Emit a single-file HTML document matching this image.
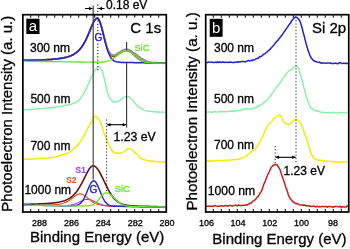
<!DOCTYPE html>
<html><head><meta charset="utf-8"><style>
html,body{margin:0;padding:0;background:#fff;width:350px;height:249px;overflow:hidden}
svg{display:block;will-change:transform}
svg{color:#000}
text{font-family:"Liberation Sans",sans-serif;fill:currentColor;stroke:currentColor;stroke-width:0.3px}
</style></head><body>
<svg width="350" height="249" viewBox="0 0 350 249">
<rect width="350" height="249" fill="#fff"/>
<g>
<path d="M23.5 60.3L24.5 60.3L25.5 60.3L26.5 60.3L27.5 60.3L28.5 60.3L29.5 60.2L30.5 60.2L31.5 60.2L32.5 60.2L33.5 60.2L34.5 60.1L35.5 60.1L36.5 60.1L37.5 60.1L38.5 60.0L39.5 60.0L40.5 60.0L41.5 59.9L42.5 59.9L43.5 59.8L44.5 59.8L45.5 59.8L46.5 59.7L47.5 59.6L48.5 59.6L49.5 59.5L50.5 59.5L51.5 59.4L52.5 59.3L53.5 59.2L54.5 59.1L55.5 59.0L56.5 58.9L57.5 58.8L58.5 58.7L59.5 58.5L60.5 58.4L61.5 58.2L62.5 58.0L63.5 57.9L64.5 57.6L65.5 57.4L66.5 57.2L67.5 56.9L68.5 56.6L69.5 56.3L70.5 55.9L71.5 55.5L72.5 55.0L73.5 54.5L74.5 53.9L75.5 53.2L76.5 52.5L77.5 51.6L78.5 50.7L79.5 49.7L80.5 48.5L81.5 47.2L82.5 45.8L83.5 44.2L84.5 42.5L85.5 40.6L86.5 38.5L87.5 36.3L88.5 34.0L89.5 31.6L90.5 29.1L91.5 26.7L92.5 24.3L93.5 22.2L94.5 20.5L95.5 19.1L96.5 18.4L97.5 18.2L98.5 19.0L99.5 20.9L100.5 23.6L101.5 26.9L102.5 30.8L103.5 34.8L104.5 38.8L105.5 42.5L106.5 46.0L107.5 48.9L108.5 51.4L109.5 53.3L110.5 54.7L111.5 55.6L112.5 56.2L113.5 56.3L114.5 56.2L115.5 55.9L116.5 55.4L117.5 54.8L118.5 54.1L119.5 53.4L120.5 52.8L121.5 52.1L122.5 51.6L123.5 51.1L124.5 50.8L125.5 50.6L126.5 50.5L127.5 50.6L128.4 50.9L129.4 51.4L130.4 52.0L131.4 52.8L132.4 53.6L133.4 54.5L134.4 55.4L135.4 56.4L136.4 57.3L137.4 58.1L138.4 58.9L139.4 59.6L140.4 60.2L141.4 60.8L142.4 61.2L143.4 61.6L144.4 61.9L145.4 62.2L146.4 62.4L147.4 62.5L148.4 62.6L149.4 62.7L150.4 62.8L151.4 62.9L152.4 62.9L153.4 62.9L154.4 63.0L155.4 63.0L156.4 63.0L157.4 63.0L158.4 63.1L159.4 63.1L160.4 63.1L161.4 63.1L162.4 63.1L163.4 63.1L164.4 63.1L165.4 63.2" fill="none" stroke="#d02020" stroke-width="1.6" stroke-linejoin="round" />
<path d="M23.5 60.7L24.5 59.8L25.5 60.4L26.5 60.2L27.5 60.2L28.5 60.2L29.5 59.8L30.5 60.2L31.5 60.0L32.5 60.9L33.5 60.2L34.5 60.1L35.5 60.1L36.5 60.0L37.5 59.9L38.5 60.0L39.5 60.1L40.5 59.9L41.5 60.1L42.5 59.9L43.5 59.9L44.5 60.1L45.5 59.9L46.5 59.6L47.5 59.6L48.5 59.7L49.5 59.9L50.5 59.4L51.5 59.3L52.5 59.5L53.5 59.0L54.5 59.1L55.5 59.2L56.5 59.0L57.5 58.8L58.5 58.8L59.5 58.0L60.5 58.6L61.5 58.0L62.5 57.7L63.5 57.9L64.5 57.8L65.5 57.3L66.5 57.0L67.5 56.9L68.5 56.6L69.5 56.5L70.5 56.0L71.5 55.5L72.5 55.2L73.5 54.4L74.5 53.7L75.5 53.3L76.5 52.6L77.5 51.6L78.5 50.5L79.5 49.7L80.5 48.0L81.5 47.3L82.5 45.9L83.5 43.9L84.5 42.5L85.5 40.4L86.5 38.7L87.5 35.9L88.5 33.8L89.5 31.7L90.5 29.3L91.5 26.2L92.5 24.2L93.5 22.3L94.5 20.3L95.5 19.4L96.5 18.0L97.5 18.2L98.5 18.7L99.5 21.0L100.5 23.4L101.5 26.6L102.5 30.1L103.5 34.8L104.5 38.5L105.5 42.2L106.5 45.7L107.5 48.4L108.5 50.6L109.5 52.4L110.5 53.7L111.5 55.0L112.5 54.9L113.5 55.2L114.5 55.1L115.5 54.9L116.5 54.4L117.5 53.4L118.5 52.6L119.5 52.3L120.5 51.8L121.5 51.1L122.5 50.5L123.5 49.9L124.5 49.7L125.5 49.4L126.5 49.6L127.5 49.3L128.4 49.7L129.4 50.0L130.4 50.6L131.4 51.1L132.4 52.2L133.4 52.7L134.4 53.5L135.4 53.5L136.4 54.7L137.4 55.5L138.4 56.5L139.4 56.7L140.4 58.1L141.4 58.7L142.4 58.9L143.4 59.5L144.4 60.1L145.4 60.7L146.4 61.2L147.4 61.8L148.4 61.7L149.4 62.1L150.4 62.2L151.4 62.7L152.4 62.6L153.4 62.9L154.4 62.5L155.4 62.7L156.4 62.7L157.4 63.2L158.4 63.1L159.4 62.9L160.4 62.9L161.4 63.1L162.4 62.9L163.4 62.9L164.4 63.2L165.4 63.6" fill="none" stroke="#909090" stroke-width="1.9" stroke-linejoin="round" />
<path d="M23.5 60.3L24.5 60.3L25.5 60.3L26.5 60.3L27.5 60.3L28.5 60.3L29.5 60.2L30.5 60.2L31.5 60.2L32.5 60.2L33.5 60.2L34.5 60.1L35.5 60.1L36.5 60.1L37.5 60.1L38.5 60.0L39.5 60.0L40.5 60.0L41.5 59.9L42.5 59.9L43.5 59.8L44.5 59.8L45.5 59.8L46.5 59.7L47.5 59.6L48.5 59.6L49.5 59.5L50.5 59.5L51.5 59.4L52.5 59.3L53.5 59.2L54.5 59.1L55.5 59.0L56.5 58.9L57.5 58.8L58.5 58.7L59.5 58.5L60.5 58.4L61.5 58.2L62.5 58.0L63.5 57.9L64.5 57.6L65.5 57.4L66.5 57.2L67.5 56.9L68.5 56.6L69.5 56.3L70.5 55.9L71.5 55.5L72.5 55.0L73.5 54.5L74.5 53.9L75.5 53.2L76.5 52.5L77.5 51.6L78.5 50.7L79.5 49.7L80.5 48.5L81.5 47.2L82.5 45.8L83.5 44.2L84.5 42.5L85.5 40.6L86.5 38.5L87.5 36.3L88.5 34.0L89.5 31.6L90.5 29.1L91.5 26.7L92.5 24.4L93.5 22.2L94.5 20.5L95.5 19.2L96.5 18.4L97.5 18.3L98.5 19.1L99.5 21.0L100.5 23.7L101.5 27.2L102.5 31.1L103.5 35.2L104.5 39.3L105.5 43.3L106.5 46.9L107.5 50.2L108.5 52.9L109.5 55.2L110.5 57.1L111.5 58.5L112.5 59.6L113.5 60.5L114.5 61.1L115.5 61.5L116.5 61.8L117.5 62.0L118.5 62.1L119.5 62.2L120.5 62.3L121.5 62.4L122.5 62.4L123.5 62.4L124.5 62.5L125.5 62.5L126.5 62.5L127.5 62.5L128.4 62.5L129.4 62.6L130.4 62.6L131.4 62.6L132.4 62.6L133.4 62.6L134.4 62.7L135.4 62.7L136.4 62.7L137.4 62.7L138.4 62.7L139.4 62.8L140.4 62.8L141.4 62.8L142.4 62.8L143.4 62.8L144.4 62.8L145.4 62.9L146.4 62.9L147.4 62.9L148.4 62.9L149.4 62.9L150.4 62.9L151.4 62.9L152.4 63.0L153.4 63.0L154.4 63.0L155.4 63.0L156.4 63.0L157.4 63.0L158.4 63.1L159.4 63.1L160.4 63.1L161.4 63.1L162.4 63.1L163.4 63.1L164.4 63.1L165.4 63.2" fill="none" stroke="#2222c0" stroke-width="1.5" stroke-linejoin="round" />
<path d="M23.5 61.2L24.5 61.2L25.5 61.2L26.5 61.3L27.5 61.3L28.5 61.3L29.5 61.3L30.5 61.3L31.5 61.3L32.5 61.3L33.5 61.3L34.5 61.4L35.5 61.4L36.5 61.4L37.5 61.4L38.5 61.4L39.5 61.4L40.5 61.4L41.5 61.5L42.5 61.5L43.5 61.5L44.5 61.5L45.5 61.5L46.5 61.5L47.5 61.5L48.5 61.6L49.5 61.6L50.5 61.6L51.5 61.6L52.5 61.6L53.5 61.6L54.5 61.6L55.5 61.7L56.5 61.7L57.5 61.7L58.5 61.7L59.5 61.7L60.5 61.7L61.5 61.7L62.5 61.8L63.5 61.8L64.5 61.8L65.5 61.8L66.5 61.8L67.5 61.8L68.5 61.8L69.5 61.8L70.5 61.9L71.5 61.9L72.5 61.9L73.5 61.9L74.5 61.9L75.5 61.9L76.5 61.9L77.5 62.0L78.5 62.0L79.5 62.0L80.5 62.0L81.5 62.0L82.5 62.0L83.5 62.0L84.5 62.1L85.5 62.1L86.5 62.1L87.5 62.1L88.5 62.1L89.5 62.1L90.5 62.1L91.5 62.1L92.5 62.2L93.5 62.2L94.5 62.2L95.5 62.2L96.5 62.2L97.5 62.2L98.5 62.2L99.5 62.1L100.5 62.1L101.5 62.1L102.5 62.0L103.5 61.9L104.5 61.8L105.5 61.6L106.5 61.4L107.5 61.2L108.5 60.8L109.5 60.5L110.5 60.0L111.5 59.5L112.5 59.0L113.5 58.3L114.5 57.7L115.5 56.9L116.5 56.1L117.5 55.3L118.5 54.5L119.5 53.8L120.5 53.0L121.5 52.4L122.5 51.8L123.5 51.3L124.5 50.9L125.5 50.7L126.5 50.6L127.5 50.7L128.4 51.0L129.4 51.5L130.4 52.1L131.4 52.9L132.4 53.7L133.4 54.6L134.4 55.5L135.4 56.5L136.4 57.4L137.4 58.2L138.4 59.0L139.4 59.7L140.4 60.3L141.4 60.8L142.4 61.3L143.4 61.7L144.4 62.0L145.4 62.2L146.4 62.4L147.4 62.6L148.4 62.7L149.4 62.8L150.4 62.9L151.4 62.9L152.4 62.9L153.4 63.0L154.4 63.0L155.4 63.0L156.4 63.1L157.4 63.1L158.4 63.1L159.4 63.1L160.4 63.1L161.4 63.1L162.4 63.1L163.4 63.2L164.4 63.2L165.4 63.2" fill="none" stroke="#5fe81e" stroke-width="1.3" stroke-linejoin="round" />
<path d="M23.5 109.9L24.5 109.8L25.5 109.6L26.5 109.5L27.5 109.8L28.5 109.8L29.5 109.6L30.5 109.6L31.5 109.5L32.5 109.4L33.5 109.0L34.5 109.1L35.5 109.2L36.5 108.9L37.5 108.9L38.5 108.8L39.5 108.8L40.5 108.9L41.5 108.6L42.5 108.5L43.5 108.6L44.5 108.5L45.5 108.6L46.5 107.7L47.5 108.2L48.5 107.8L49.5 107.8L50.5 107.8L51.5 107.7L52.5 107.5L53.5 107.2L54.5 107.4L55.5 106.9L56.5 106.8L57.5 106.8L58.5 106.4L59.5 106.8L60.5 106.5L61.5 106.5L62.5 105.9L63.5 105.7L64.5 105.6L65.5 105.6L66.5 105.1L67.5 105.2L68.5 104.9L69.5 105.0L70.5 104.3L71.5 104.4L72.5 103.7L73.5 103.3L74.5 103.0L75.5 102.4L76.5 102.1L77.5 101.6L78.5 100.6L79.5 99.6L80.5 98.4L81.5 96.7L82.5 95.3L83.5 93.8L84.5 91.9L85.5 90.3L86.5 87.6L87.5 85.9L88.5 83.5L89.5 81.4L90.5 78.9L91.5 76.6L92.5 74.8L93.5 72.8L94.5 71.1L95.5 69.5L96.5 68.2L97.5 67.5L98.5 66.9L99.5 67.2L100.5 67.8L101.5 69.8L102.5 71.5L103.5 75.1L104.5 79.9L105.5 84.2L106.5 88.7L107.5 92.5L108.5 95.6L109.5 98.0L110.5 99.3L111.5 100.3L112.5 101.5L113.5 102.0L114.5 102.0L115.5 101.6L116.5 101.9L117.5 101.7L118.5 101.1L119.5 100.7L120.5 100.0L121.5 98.9L122.5 98.6L123.5 97.6L124.5 96.9L125.5 96.6L126.5 96.4L127.5 96.8L128.4 96.5L129.4 97.1L130.4 98.0L131.4 98.8L132.4 100.2L133.4 100.8L134.4 102.4L135.4 103.7L136.4 105.1L137.4 105.7L138.4 107.1L139.4 107.5L140.4 108.2L141.4 108.6L142.4 109.1L143.4 109.9L144.4 110.3L145.4 110.6L146.4 110.9L147.4 110.9L148.4 111.0L149.4 111.3L150.4 111.4L151.4 111.3L152.4 111.6L153.4 111.8L154.4 111.7L155.4 111.7L156.4 112.0L157.4 112.3L158.4 111.9L159.4 112.0L160.4 112.1L161.4 112.4L162.4 111.8L163.4 112.3L164.4 112.5L165.4 112.1" fill="none" stroke="#88eeaa" stroke-width="1.4" stroke-linejoin="round" />
<path d="M23.5 159.7L24.5 159.4L25.5 159.1L26.5 159.3L27.5 158.8L28.5 159.0L29.5 159.6L30.5 158.9L31.5 159.5L32.5 159.0L33.5 159.2L34.5 158.9L35.5 158.3L36.5 158.7L37.5 158.8L38.5 158.4L39.5 158.3L40.5 158.7L41.5 158.3L42.5 158.0L43.5 158.2L44.5 158.5L45.5 158.1L46.5 158.4L47.5 158.4L48.5 158.0L49.5 157.6L50.5 157.4L51.5 157.6L52.5 157.7L53.5 157.4L54.5 157.3L55.5 156.9L56.5 156.9L57.5 156.4L58.5 156.2L59.5 155.6L60.5 155.2L61.5 155.1L62.5 154.6L63.5 154.3L64.5 154.3L65.5 153.8L66.5 154.2L67.5 153.3L68.5 152.5L69.5 152.3L70.5 151.7L71.5 150.8L72.5 150.5L73.5 149.2L74.5 147.6L75.5 147.6L76.5 146.2L77.5 145.6L78.5 143.8L79.5 142.3L80.5 141.6L81.5 139.4L82.5 138.1L83.5 136.7L84.5 134.6L85.5 132.5L86.5 130.6L87.5 128.9L88.5 126.6L89.5 125.1L90.5 123.3L91.5 122.1L92.5 119.5L93.5 117.6L94.5 116.8L95.5 116.1L96.5 116.7L97.5 117.6L98.5 119.2L99.5 120.2L100.5 122.5L101.5 124.7L102.5 128.4L103.5 132.0L104.5 134.1L105.5 136.8L106.5 139.3L107.5 142.1L108.5 144.0L109.5 145.8L110.5 148.3L111.5 150.0L112.5 151.5L113.5 152.0L114.5 152.9L115.5 152.9L116.5 153.0L117.5 153.0L118.5 153.2L119.5 153.5L120.5 153.0L121.5 153.0L122.5 152.4L123.5 152.0L124.5 151.3L125.5 150.5L126.5 149.3L127.5 149.1L128.4 148.7L129.4 148.5L130.4 148.9L131.4 149.3L132.4 150.2L133.4 151.0L134.4 152.4L135.4 153.0L136.4 153.8L137.4 154.7L138.4 156.1L139.4 157.4L140.4 158.0L141.4 158.2L142.4 159.2L143.4 159.6L144.4 159.8L145.4 160.1L146.4 160.4L147.4 160.5L148.4 160.8L149.4 160.5L150.4 161.2L151.4 161.0L152.4 161.6L153.4 160.7L154.4 161.5L155.4 161.7L156.4 161.4L157.4 161.7L158.4 161.9L159.4 161.9L160.4 161.7L161.4 161.8L162.4 162.2L163.4 162.3L164.4 162.0L165.4 162.0" fill="none" stroke="#f2ea0a" stroke-width="1.5" stroke-linejoin="round" />
<path d="M23.5 204.3L24.5 204.3L25.5 204.3L26.5 204.2L27.5 204.2L28.5 204.2L29.5 204.2L30.5 204.2L31.5 204.1L32.5 204.1L33.5 204.1L34.5 204.1L35.5 204.0L36.5 204.0L37.5 204.0L38.5 203.9L39.5 203.9L40.5 203.8L41.5 203.8L42.5 203.8L43.5 203.7L44.5 203.6L45.5 203.6L46.5 203.5L47.5 203.5L48.5 203.4L49.5 203.3L50.5 203.2L51.5 203.1L52.5 203.0L53.5 202.9L54.5 202.8L55.5 202.7L56.5 202.5L57.5 202.4L58.5 202.2L59.5 202.0L60.5 201.8L61.5 201.5L62.5 201.3L63.5 201.0L64.5 200.7L65.5 200.3L66.5 199.9L67.5 199.4L68.5 198.9L69.5 198.3L70.5 197.6L71.5 196.8L72.5 196.0L73.5 195.1L74.5 194.0L75.5 192.9L76.5 191.7L77.5 190.3L78.5 188.8L79.5 187.2L80.5 185.5L81.5 183.7L82.5 181.8L83.5 179.8L84.5 177.8L85.5 175.8L86.5 173.8L87.5 171.8L88.5 170.1L89.5 168.5L90.5 167.3L91.5 166.4L92.5 165.9L93.5 165.8L94.5 166.1L95.5 166.7L96.5 167.7L97.5 168.9L98.5 170.3L99.5 172.0L100.5 173.8L101.5 175.8L102.5 177.8L103.5 179.9L104.5 182.0L105.5 184.1L106.5 186.2L107.5 188.2L108.5 190.1L109.5 191.9L110.5 193.5L111.5 195.1L112.5 196.5L113.5 197.8L114.5 198.9L115.5 199.9L116.5 200.8L117.5 201.6L118.5 202.3L119.5 202.9L120.5 203.4L121.5 203.9L122.5 204.2L123.5 204.6L124.5 204.8L125.5 205.0L126.5 205.2L127.5 205.4L128.4 205.5L129.4 205.6L130.4 205.7L131.4 205.8L132.4 205.9L133.4 205.9L134.4 206.0L135.4 206.0L136.4 206.1L137.4 206.1L138.4 206.2L139.4 206.2L140.4 206.2L141.4 206.3L142.4 206.3L143.4 206.3L144.4 206.3L145.4 206.4L146.4 206.4L147.4 206.4L148.4 206.4L149.4 206.5L150.4 206.5L151.4 206.5L152.4 206.5L153.4 206.6L154.4 206.6L155.4 206.6L156.4 206.6L157.4 206.6L158.4 206.7L159.4 206.7L160.4 206.7L161.4 206.7L162.4 206.7L163.4 206.8L164.4 206.8L165.4 206.8" fill="none" stroke="#6a1212" stroke-width="1.6" stroke-linejoin="round" />
<path d="M23.5 205.2L24.5 205.2L25.5 205.2L26.5 205.2L27.5 205.3L28.5 205.3L29.5 205.3L30.5 205.3L31.5 205.3L32.5 205.3L33.5 205.3L34.5 205.3L35.5 205.4L36.5 205.4L37.5 205.4L38.5 205.4L39.5 205.4L40.5 205.4L41.5 205.4L42.5 205.4L43.5 205.5L44.5 205.5L45.5 205.5L46.5 205.5L47.5 205.5L48.5 205.5L49.5 205.5L50.5 205.5L51.5 205.6L52.5 205.6L53.5 205.6L54.5 205.6L55.5 205.6L56.5 205.6L57.5 205.6L58.5 205.6L59.5 205.6L60.5 205.6L61.5 205.6L62.5 205.6L63.5 205.6L64.5 205.6L65.5 205.6L66.5 205.5L67.5 205.5L68.5 205.4L69.5 205.3L70.5 205.1L71.5 204.9L72.5 204.7L73.5 204.4L74.5 204.1L75.5 203.7L76.5 203.3L77.5 202.9L78.5 202.4L79.5 201.9L80.5 201.4L81.5 201.0L82.5 200.5L83.5 200.1L84.5 199.8L85.5 199.5L86.5 199.4L87.5 199.3L88.5 199.4L89.5 199.5L90.5 199.7L91.5 200.0L92.5 200.4L93.5 200.9L94.5 201.4L95.5 201.9L96.5 202.4L97.5 202.9L98.5 203.4L99.5 203.8L100.5 204.2L101.5 204.6L102.5 204.9L103.5 205.2L104.5 205.4L105.5 205.6L106.5 205.8L107.5 205.9L108.5 206.0L109.5 206.1L110.5 206.2L111.5 206.2L112.5 206.3L113.5 206.3L114.5 206.3L115.5 206.3L116.5 206.4L117.5 206.4L118.5 206.4L119.5 206.4L120.5 206.4L121.5 206.4L122.5 206.4L123.5 206.5L124.5 206.5L125.5 206.5L126.5 206.5L127.5 206.5L128.4 206.5L129.4 206.5L130.4 206.5L131.4 206.6L132.4 206.6L133.4 206.6L134.4 206.6L135.4 206.6L136.4 206.6L137.4 206.6L138.4 206.6L139.4 206.7L140.4 206.7L141.4 206.7L142.4 206.7L143.4 206.7L144.4 206.7L145.4 206.7L146.4 206.7L147.4 206.8L148.4 206.8L149.4 206.8L150.4 206.8L151.4 206.8L152.4 206.8L153.4 206.8L154.4 206.8L155.4 206.9L156.4 206.9L157.4 206.9L158.4 206.9L159.4 206.9L160.4 206.9L161.4 206.9L162.4 206.9L163.4 207.0L164.4 207.0L165.4 207.0" fill="none" stroke="#a040e0" stroke-width="1.1" stroke-linejoin="round" />
<path d="M23.5 205.0L24.5 205.0L25.5 205.0L26.5 205.0L27.5 205.0L28.5 205.1L29.5 205.1L30.5 205.1L31.5 205.1L32.5 205.1L33.5 205.1L34.5 205.1L35.5 205.1L36.5 205.1L37.5 205.1L38.5 205.1L39.5 205.1L40.5 205.1L41.5 205.1L42.5 205.0L43.5 205.0L44.5 205.0L45.5 205.0L46.5 205.0L47.5 205.0L48.5 205.0L49.5 204.9L50.5 204.9L51.5 204.9L52.5 204.8L53.5 204.8L54.5 204.7L55.5 204.7L56.5 204.6L57.5 204.5L58.5 204.3L59.5 204.2L60.5 204.0L61.5 203.8L62.5 203.5L63.5 203.2L64.5 202.8L65.5 202.4L66.5 201.9L67.5 201.4L68.5 200.8L69.5 200.2L70.5 199.5L71.5 198.7L72.5 198.0L73.5 197.2L74.5 196.4L75.5 195.7L76.5 195.0L77.5 194.5L78.5 194.1L79.5 193.9L80.5 193.9L81.5 194.1L82.5 194.5L83.5 195.0L84.5 195.6L85.5 196.4L86.5 197.2L87.5 198.0L88.5 198.8L89.5 199.6L90.5 200.4L91.5 201.1L92.5 201.8L93.5 202.4L94.5 203.0L95.5 203.4L96.5 203.9L97.5 204.2L98.5 204.5L99.5 204.8L100.5 205.0L101.5 205.2L102.5 205.3L103.5 205.5L104.5 205.6L105.5 205.7L106.5 205.7L107.5 205.8L108.5 205.8L109.5 205.9L110.5 205.9L111.5 206.0L112.5 206.0L113.5 206.0L114.5 206.1L115.5 206.1L116.5 206.1L117.5 206.1L118.5 206.2L119.5 206.2L120.5 206.2L121.5 206.2L122.5 206.3L123.5 206.3L124.5 206.3L125.5 206.3L126.5 206.3L127.5 206.4L128.4 206.4L129.4 206.4L130.4 206.4L131.4 206.4L132.4 206.4L133.4 206.5L134.4 206.5L135.4 206.5L136.4 206.5L137.4 206.5L138.4 206.5L139.4 206.6L140.4 206.6L141.4 206.6L142.4 206.6L143.4 206.6L144.4 206.6L145.4 206.7L146.4 206.7L147.4 206.7L148.4 206.7L149.4 206.7L150.4 206.7L151.4 206.7L152.4 206.8L153.4 206.8L154.4 206.8L155.4 206.8L156.4 206.8L157.4 206.8L158.4 206.8L159.4 206.9L160.4 206.9L161.4 206.9L162.4 206.9L163.4 206.9L164.4 206.9L165.4 206.9" fill="none" stroke="#e05020" stroke-width="1.2" stroke-linejoin="round" />
<path d="M23.5 205.2L24.5 205.2L25.5 205.2L26.5 205.2L27.5 205.3L28.5 205.3L29.5 205.3L30.5 205.3L31.5 205.3L32.5 205.3L33.5 205.3L34.5 205.3L35.5 205.4L36.5 205.4L37.5 205.4L38.5 205.4L39.5 205.4L40.5 205.4L41.5 205.4L42.5 205.4L43.5 205.5L44.5 205.5L45.5 205.5L46.5 205.5L47.5 205.5L48.5 205.5L49.5 205.5L50.5 205.5L51.5 205.6L52.5 205.6L53.5 205.6L54.5 205.6L55.5 205.6L56.5 205.6L57.5 205.6L58.5 205.6L59.5 205.7L60.5 205.7L61.5 205.7L62.5 205.7L63.5 205.7L64.5 205.7L65.5 205.7L66.5 205.7L67.5 205.8L68.5 205.8L69.5 205.8L70.5 205.8L71.5 205.8L72.5 205.7L73.5 205.7L74.5 205.6L75.5 205.5L76.5 205.3L77.5 205.0L78.5 204.6L79.5 204.0L80.5 203.3L81.5 202.2L82.5 200.9L83.5 199.3L84.5 197.5L85.5 195.3L86.5 193.0L87.5 190.5L88.5 188.1L89.5 185.8L90.5 183.8L91.5 182.2L92.5 181.2L93.5 180.8L94.5 181.0L95.5 181.9L96.5 183.4L97.5 185.3L98.5 187.5L99.5 189.9L100.5 192.4L101.5 194.8L102.5 197.1L103.5 199.0L104.5 200.8L105.5 202.2L106.5 203.3L107.5 204.2L108.5 204.8L109.5 205.3L110.5 205.7L111.5 205.9L112.5 206.1L113.5 206.2L114.5 206.3L115.5 206.3L116.5 206.3L117.5 206.4L118.5 206.4L119.5 206.4L120.5 206.4L121.5 206.4L122.5 206.4L123.5 206.5L124.5 206.5L125.5 206.5L126.5 206.5L127.5 206.5L128.4 206.5L129.4 206.5L130.4 206.5L131.4 206.6L132.4 206.6L133.4 206.6L134.4 206.6L135.4 206.6L136.4 206.6L137.4 206.6L138.4 206.6L139.4 206.7L140.4 206.7L141.4 206.7L142.4 206.7L143.4 206.7L144.4 206.7L145.4 206.7L146.4 206.7L147.4 206.8L148.4 206.8L149.4 206.8L150.4 206.8L151.4 206.8L152.4 206.8L153.4 206.8L154.4 206.8L155.4 206.9L156.4 206.9L157.4 206.9L158.4 206.9L159.4 206.9L160.4 206.9L161.4 206.9L162.4 206.9L163.4 207.0L164.4 207.0L165.4 207.0" fill="none" stroke="#2222d0" stroke-width="1.4" stroke-linejoin="round" />
<path d="M23.5 205.2L24.5 205.2L25.5 205.2L26.5 205.2L27.5 205.3L28.5 205.3L29.5 205.3L30.5 205.3L31.5 205.3L32.5 205.3L33.5 205.3L34.5 205.3L35.5 205.4L36.5 205.4L37.5 205.4L38.5 205.4L39.5 205.4L40.5 205.4L41.5 205.4L42.5 205.4L43.5 205.5L44.5 205.5L45.5 205.5L46.5 205.5L47.5 205.5L48.5 205.5L49.5 205.5L50.5 205.5L51.5 205.6L52.5 205.6L53.5 205.6L54.5 205.6L55.5 205.6L56.5 205.6L57.5 205.6L58.5 205.6L59.5 205.7L60.5 205.7L61.5 205.7L62.5 205.7L63.5 205.7L64.5 205.7L65.5 205.7L66.5 205.7L67.5 205.8L68.5 205.8L69.5 205.8L70.5 205.8L71.5 205.8L72.5 205.8L73.5 205.8L74.5 205.8L75.5 205.9L76.5 205.9L77.5 205.9L78.5 205.9L79.5 205.9L80.5 205.9L81.5 205.9L82.5 205.9L83.5 205.9L84.5 205.9L85.5 205.9L86.5 205.9L87.5 205.8L88.5 205.7L89.5 205.6L90.5 205.4L91.5 205.1L92.5 204.8L93.5 204.3L94.5 203.7L95.5 202.9L96.5 202.0L97.5 200.9L98.5 199.8L99.5 198.5L100.5 197.3L101.5 196.0L102.5 194.9L103.5 194.0L104.5 193.3L105.5 192.9L106.5 192.9L107.5 193.0L108.5 193.4L109.5 193.9L110.5 194.6L111.5 195.5L112.5 196.4L113.5 197.4L114.5 198.4L115.5 199.4L116.5 200.4L117.5 201.3L118.5 202.2L119.5 202.9L120.5 203.6L121.5 204.2L122.5 204.7L123.5 205.1L124.5 205.4L125.5 205.7L126.5 205.9L127.5 206.1L128.4 206.2L129.4 206.3L130.4 206.4L131.4 206.5L132.4 206.5L133.4 206.5L134.4 206.6L135.4 206.6L136.4 206.6L137.4 206.6L138.4 206.6L139.4 206.7L140.4 206.7L141.4 206.7L142.4 206.7L143.4 206.7L144.4 206.7L145.4 206.7L146.4 206.7L147.4 206.8L148.4 206.8L149.4 206.8L150.4 206.8L151.4 206.8L152.4 206.8L153.4 206.8L154.4 206.8L155.4 206.9L156.4 206.9L157.4 206.9L158.4 206.9L159.4 206.9L160.4 206.9L161.4 206.9L162.4 206.9L163.4 207.0L164.4 207.0L165.4 207.0" fill="none" stroke="#5fe81e" stroke-width="1.3" stroke-linejoin="round" />
<path d="M206.3 62.4L207.3 62.7L208.3 62.1L209.3 62.1L210.3 62.4L211.3 62.1L212.3 62.2L213.3 62.4L214.3 62.5L215.3 62.1L216.3 62.6L217.3 61.9L218.3 62.5L219.3 62.0L220.3 62.0L221.3 62.5L222.3 62.3L223.3 62.1L224.3 62.2L225.3 62.5L226.3 62.3L227.3 62.3L228.3 62.6L229.3 62.1L230.3 62.2L231.3 62.1L232.3 62.5L233.3 62.5L234.3 62.5L235.3 62.1L236.3 62.0L237.3 62.2L238.3 61.8L239.3 62.0L240.3 61.9L241.3 61.5L242.3 61.5L243.3 61.4L244.3 61.8L245.3 61.9L246.3 61.2L247.3 61.1L248.3 60.4L249.3 60.9L250.3 60.8L251.3 60.3L252.3 60.6L253.3 59.8L254.3 59.7L255.3 59.4L256.3 58.6L257.3 58.6L258.3 58.2L259.3 57.0L260.3 56.5L261.3 56.4L262.3 55.5L263.3 54.5L264.3 54.0L265.3 53.3L266.3 52.5L267.3 51.8L268.3 50.7L269.3 50.1L270.3 48.9L271.3 47.7L272.3 46.7L273.3 45.7L274.3 44.4L275.3 42.8L276.3 42.1L277.3 40.8L278.3 39.9L279.3 38.3L280.3 37.2L281.3 35.8L282.3 34.8L283.3 33.1L284.3 31.6L285.3 30.3L286.3 28.7L287.3 27.4L288.3 25.8L289.3 24.4L290.3 23.3L291.3 21.4L292.3 20.0L293.3 18.7L294.3 18.0L295.3 16.9L296.3 17.2L297.3 17.9L298.3 18.8L299.3 19.9L300.3 22.3L301.3 25.2L302.3 28.8L303.3 32.7L304.3 36.6L305.3 40.6L306.3 44.4L307.3 47.7L308.3 51.1L309.3 53.8L310.3 56.2L311.3 58.1L312.3 59.1L313.3 60.4L314.3 61.2L315.3 61.2L316.3 61.8L317.3 62.1L318.3 62.4L319.3 62.1L320.3 63.0L321.3 62.7L322.3 63.2L323.3 63.0L324.3 63.0L325.3 63.1L326.3 63.4L327.3 62.9L328.3 63.1L329.3 63.1L330.3 62.8L331.3 63.6L332.3 63.4L333.3 63.3L334.3 63.6L335.3 63.1L336.3 63.3L337.3 63.8L338.3 63.6L339.3 62.8L340.3 62.5L341.3 63.1L342.3 63.6L343.3 63.3L344.3 63.3L345.3 63.5L346.3 63.2L347.3 63.5L348.3 63.6" fill="none" stroke="#2222c8" stroke-width="1.5" stroke-linejoin="round" />
<path d="M206.3 112.1L207.3 112.1L208.3 111.8L209.3 112.1L210.3 111.8L211.3 112.3L212.3 112.7L213.3 111.7L214.3 111.3L215.3 111.8L216.3 112.0L217.3 112.1L218.3 112.1L219.3 111.5L220.3 111.5L221.3 112.1L222.3 111.3L223.3 111.9L224.3 111.5L225.3 111.8L226.3 111.7L227.3 111.7L228.3 111.6L229.3 111.0L230.3 111.4L231.3 111.2L232.3 111.3L233.3 111.5L234.3 111.0L235.3 110.8L236.3 110.7L237.3 110.6L238.3 110.8L239.3 110.1L240.3 110.4L241.3 109.9L242.3 109.6L243.3 109.0L244.3 109.3L245.3 109.3L246.3 108.4L247.3 109.2L248.3 109.2L249.3 108.7L250.3 108.7L251.3 109.2L252.3 108.7L253.3 107.9L254.3 108.0L255.3 107.6L256.3 107.2L257.3 106.1L258.3 106.5L259.3 105.5L260.3 105.1L261.3 104.4L262.3 104.0L263.3 102.9L264.3 102.0L265.3 101.5L266.3 100.9L267.3 99.4L268.3 98.9L269.3 97.4L270.3 95.8L271.3 95.0L272.3 92.9L273.3 92.0L274.3 90.1L275.3 89.0L276.3 87.2L277.3 86.0L278.3 85.3L279.3 83.7L280.3 82.4L281.3 80.9L282.3 79.8L283.3 77.7L284.3 76.3L285.3 75.2L286.3 73.6L287.3 72.4L288.3 71.5L289.3 70.5L290.3 69.8L291.3 70.0L292.3 69.0L293.3 67.5L294.3 66.4L295.3 66.1L296.3 65.8L297.3 66.6L298.3 67.8L299.3 70.8L300.3 74.2L301.3 77.4L302.3 81.1L303.3 84.9L304.3 89.5L305.3 92.7L306.3 96.6L307.3 99.5L308.3 102.4L309.3 105.3L310.3 106.9L311.3 108.7L312.3 108.8L313.3 109.4L314.3 110.4L315.3 111.0L316.3 110.7L317.3 111.2L318.3 111.0L319.3 111.6L320.3 112.2L321.3 112.1L322.3 112.2L323.3 112.1L324.3 112.7L325.3 112.8L326.3 112.8L327.3 112.7L328.3 112.3L329.3 113.2L330.3 112.7L331.3 112.7L332.3 112.9L333.3 112.1L334.3 112.7L335.3 112.7L336.3 112.9L337.3 113.2L338.3 112.9L339.3 112.2L340.3 112.7L341.3 112.8L342.3 112.8L343.3 112.4L344.3 112.3L345.3 113.0L346.3 112.9L347.3 112.8L348.3 112.3" fill="none" stroke="#88eeaa" stroke-width="1.4" stroke-linejoin="round" />
<path d="M206.3 161.4L207.3 160.3L208.3 160.9L209.3 161.5L210.3 160.9L211.3 161.0L212.3 160.6L213.3 161.2L214.3 160.6L215.3 160.9L216.3 160.9L217.3 160.5L218.3 161.0L219.3 160.3L220.3 160.5L221.3 160.6L222.3 160.5L223.3 160.6L224.3 160.7L225.3 160.3L226.3 160.2L227.3 160.1L228.3 160.1L229.3 160.3L230.3 160.0L231.3 160.0L232.3 159.8L233.3 159.5L234.3 159.9L235.3 159.3L236.3 159.4L237.3 159.7L238.3 158.9L239.3 159.1L240.3 158.6L241.3 158.6L242.3 157.9L243.3 157.7L244.3 157.1L245.3 156.6L246.3 156.2L247.3 155.1L248.3 154.4L249.3 153.5L250.3 152.7L251.3 151.9L252.3 150.9L253.3 150.6L254.3 150.1L255.3 148.9L256.3 147.5L257.3 146.8L258.3 144.7L259.3 143.0L260.3 141.0L261.3 139.2L262.3 137.2L263.3 135.3L264.3 132.4L265.3 130.2L266.3 128.3L267.3 126.6L268.3 124.5L269.3 123.7L270.3 122.7L271.3 121.7L272.3 120.8L273.3 119.4L274.3 118.1L275.3 117.7L276.3 116.7L277.3 115.5L278.3 115.4L279.3 115.1L280.3 115.3L281.3 117.1L282.3 118.9L283.3 121.0L284.3 122.7L285.3 123.7L286.3 124.0L287.3 124.1L288.3 124.8L289.3 124.1L290.3 123.7L291.3 122.9L292.3 121.3L293.3 120.3L294.3 120.0L295.3 120.1L296.3 119.4L297.3 119.9L298.3 120.4L299.3 121.5L300.3 123.2L301.3 124.4L302.3 127.2L303.3 129.7L304.3 132.7L305.3 135.5L306.3 138.9L307.3 141.6L308.3 144.9L309.3 147.9L310.3 151.5L311.3 154.1L312.3 155.7L313.3 157.7L314.3 158.3L315.3 159.4L316.3 159.4L317.3 159.4L318.3 160.5L319.3 160.3L320.3 160.3L321.3 160.5L322.3 160.4L323.3 160.9L324.3 160.8L325.3 161.5L326.3 161.4L327.3 161.0L328.3 161.1L329.3 161.4L330.3 161.2L331.3 161.7L332.3 161.8L333.3 161.6L334.3 161.7L335.3 162.0L336.3 162.3L337.3 162.3L338.3 162.0L339.3 162.2L340.3 161.8L341.3 162.1L342.3 161.8L343.3 162.2L344.3 161.7L345.3 161.8L346.3 162.0L347.3 162.1L348.3 161.6" fill="none" stroke="#f2ea0a" stroke-width="1.5" stroke-linejoin="round" />
<path d="M206.3 206.0L207.3 206.2L208.3 206.3L209.3 205.9L210.3 206.2L211.3 206.1L212.3 206.6L213.3 206.3L214.3 205.7L215.3 205.5L216.3 206.1L217.3 206.4L218.3 206.1L219.3 206.3L220.3 205.9L221.3 205.6L222.3 206.2L223.3 206.0L224.3 206.1L225.3 205.5L226.3 205.9L227.3 205.7L228.3 206.1L229.3 205.6L230.3 205.6L231.3 205.6L232.3 206.1L233.3 205.7L234.3 205.4L235.3 205.3L236.3 205.3L237.3 206.0L238.3 205.0L239.3 205.2L240.3 205.6L241.3 205.7L242.3 205.2L243.3 205.4L244.3 205.3L245.3 205.3L246.3 204.8L247.3 205.0L248.3 204.1L249.3 204.1L250.3 202.9L251.3 203.0L252.3 201.7L253.3 200.9L254.3 200.6L255.3 199.3L256.3 198.6L257.3 196.9L258.3 196.4L259.3 194.6L260.3 192.7L261.3 191.4L262.3 189.1L263.3 185.6L264.3 183.1L265.3 181.1L266.3 178.3L267.3 175.8L268.3 173.3L269.3 171.6L270.3 169.3L271.3 167.2L272.3 166.4L273.3 165.1L274.3 165.1L275.3 164.4L276.3 164.4L277.3 165.2L278.3 167.0L279.3 168.2L280.3 170.3L281.3 173.9L282.3 176.8L283.3 179.6L284.3 182.4L285.3 185.7L286.3 188.9L287.3 190.8L288.3 195.0L289.3 196.8L290.3 198.8L291.3 199.7L292.3 201.1L293.3 201.9L294.3 202.5L295.3 203.3L296.3 203.7L297.3 203.6L298.3 204.2L299.3 204.7L300.3 205.0L301.3 204.9L302.3 205.1L303.3 205.3L304.3 205.1L305.3 205.2L306.3 206.1L307.3 205.6L308.3 205.9L309.3 205.7L310.3 206.4L311.3 206.6L312.3 206.1L313.3 206.4L314.3 206.1L315.3 206.9L316.3 206.7L317.3 206.2L318.3 206.9L319.3 206.6L320.3 206.7L321.3 206.7L322.3 206.4L323.3 206.4L324.3 206.8L325.3 206.6L326.3 206.3L327.3 207.3L328.3 206.6L329.3 206.5L330.3 206.5L331.3 206.9L332.3 207.0L333.3 206.8L334.3 207.0L335.3 206.3L336.3 206.6L337.3 206.6L338.3 206.8L339.3 206.9L340.3 206.2L341.3 207.7L342.3 206.5L343.3 206.9L344.3 207.1L345.3 207.1L346.3 206.9L347.3 205.9L348.3 206.5" fill="none" stroke="#c42020" stroke-width="1.5" stroke-linejoin="round" />
</g>
<!-- reference lines left -->
<line x1="93.2" y1="5.5" x2="93.2" y2="179.5" stroke="#444" stroke-width="1.2"/>
<line x1="97.8" y1="4.5" x2="97.8" y2="33" stroke="#222" stroke-width="1.1" stroke-dasharray="1.2 2"/>
<line x1="97.8" y1="43.5" x2="97.8" y2="72" stroke="#222" stroke-width="1.1" stroke-dasharray="1.2 2"/>
<line x1="126.6" y1="42" x2="126.6" y2="50.5" stroke="#333" stroke-width="1.1"/>
<line x1="126.6" y1="62.8" x2="126.6" y2="127.5" stroke="#333" stroke-width="1.1"/>
<line x1="106.6" y1="119.5" x2="106.6" y2="192" stroke="#222" stroke-width="1" stroke-dasharray="1.2 2"/>
<!-- arrows top -->
<line x1="85" y1="8.5" x2="92.5" y2="8.5" stroke="#000" stroke-width="1"/>
<path d="M92.5 8.5 L89 6.8 L89 10.2Z" fill="#000"/>
<line x1="98.5" y1="8.5" x2="104.5" y2="8.5" stroke="#000" stroke-width="1"/>
<path d="M98.5 8.5 L102 6.8 L102 10.2Z" fill="#000"/>
<!-- arrow 1.23 left -->
<line x1="107" y1="124.7" x2="126.2" y2="124.7" stroke="#000" stroke-width="1.1"/>
<path d="M107 124.7 L110.5 123 L110.5 126.4Z" fill="#000"/>
<path d="M126.2 124.7 L122.7 123 L122.7 126.4Z" fill="#000"/>
<!-- right panel lines -->
<line x1="296" y1="17" x2="296" y2="163" stroke="#222" stroke-width="1" stroke-dasharray="1.2 2"/>
<line x1="275.2" y1="146" x2="275.2" y2="164" stroke="#222" stroke-width="1" stroke-dasharray="1.2 2"/>
<line x1="275.5" y1="157.3" x2="295.7" y2="157.3" stroke="#000" stroke-width="1.1"/>
<path d="M275.5 157.3 L279 155.6 L279 159Z" fill="#000"/>
<path d="M295.7 157.3 L292.2 155.6 L292.2 159Z" fill="#000"/>
<line x1="30.7" y1="14.7" x2="30.7" y2="17.7" stroke="#000" stroke-width="1"/>
<line x1="30.7" y1="212.0" x2="30.7" y2="209.0" stroke="#000" stroke-width="1"/>
<line x1="213.3" y1="14.7" x2="213.3" y2="17.7" stroke="#000" stroke-width="1"/>
<line x1="213.3" y1="212.0" x2="213.3" y2="209.0" stroke="#000" stroke-width="1"/>
<line x1="38.7" y1="14.7" x2="38.7" y2="17.7" stroke="#000" stroke-width="1"/>
<line x1="38.7" y1="212.0" x2="38.7" y2="209.0" stroke="#000" stroke-width="1"/>
<line x1="221.3" y1="14.7" x2="221.3" y2="17.7" stroke="#000" stroke-width="1"/>
<line x1="221.3" y1="212.0" x2="221.3" y2="209.0" stroke="#000" stroke-width="1"/>
<line x1="46.7" y1="14.7" x2="46.7" y2="17.7" stroke="#000" stroke-width="1"/>
<line x1="46.7" y1="212.0" x2="46.7" y2="209.0" stroke="#000" stroke-width="1"/>
<line x1="229.3" y1="14.7" x2="229.3" y2="17.7" stroke="#000" stroke-width="1"/>
<line x1="229.3" y1="212.0" x2="229.3" y2="209.0" stroke="#000" stroke-width="1"/>
<line x1="54.7" y1="14.7" x2="54.7" y2="17.7" stroke="#000" stroke-width="1"/>
<line x1="54.7" y1="212.0" x2="54.7" y2="209.0" stroke="#000" stroke-width="1"/>
<line x1="237.3" y1="14.7" x2="237.3" y2="17.7" stroke="#000" stroke-width="1"/>
<line x1="237.3" y1="212.0" x2="237.3" y2="209.0" stroke="#000" stroke-width="1"/>
<line x1="62.7" y1="14.7" x2="62.7" y2="17.7" stroke="#000" stroke-width="1"/>
<line x1="62.7" y1="212.0" x2="62.7" y2="209.0" stroke="#000" stroke-width="1"/>
<line x1="245.3" y1="14.7" x2="245.3" y2="17.7" stroke="#000" stroke-width="1"/>
<line x1="245.3" y1="212.0" x2="245.3" y2="209.0" stroke="#000" stroke-width="1"/>
<line x1="70.7" y1="14.7" x2="70.7" y2="17.7" stroke="#000" stroke-width="1"/>
<line x1="70.7" y1="212.0" x2="70.7" y2="209.0" stroke="#000" stroke-width="1"/>
<line x1="253.3" y1="14.7" x2="253.3" y2="17.7" stroke="#000" stroke-width="1"/>
<line x1="253.3" y1="212.0" x2="253.3" y2="209.0" stroke="#000" stroke-width="1"/>
<line x1="78.7" y1="14.7" x2="78.7" y2="17.7" stroke="#000" stroke-width="1"/>
<line x1="78.7" y1="212.0" x2="78.7" y2="209.0" stroke="#000" stroke-width="1"/>
<line x1="261.3" y1="14.7" x2="261.3" y2="17.7" stroke="#000" stroke-width="1"/>
<line x1="261.3" y1="212.0" x2="261.3" y2="209.0" stroke="#000" stroke-width="1"/>
<line x1="86.7" y1="14.7" x2="86.7" y2="17.7" stroke="#000" stroke-width="1"/>
<line x1="86.7" y1="212.0" x2="86.7" y2="209.0" stroke="#000" stroke-width="1"/>
<line x1="269.3" y1="14.7" x2="269.3" y2="17.7" stroke="#000" stroke-width="1"/>
<line x1="269.3" y1="212.0" x2="269.3" y2="209.0" stroke="#000" stroke-width="1"/>
<line x1="94.7" y1="14.7" x2="94.7" y2="17.7" stroke="#000" stroke-width="1"/>
<line x1="94.7" y1="212.0" x2="94.7" y2="209.0" stroke="#000" stroke-width="1"/>
<line x1="277.3" y1="14.7" x2="277.3" y2="17.7" stroke="#000" stroke-width="1"/>
<line x1="277.3" y1="212.0" x2="277.3" y2="209.0" stroke="#000" stroke-width="1"/>
<line x1="102.7" y1="14.7" x2="102.7" y2="17.7" stroke="#000" stroke-width="1"/>
<line x1="102.7" y1="212.0" x2="102.7" y2="209.0" stroke="#000" stroke-width="1"/>
<line x1="285.3" y1="14.7" x2="285.3" y2="17.7" stroke="#000" stroke-width="1"/>
<line x1="285.3" y1="212.0" x2="285.3" y2="209.0" stroke="#000" stroke-width="1"/>
<line x1="110.7" y1="14.7" x2="110.7" y2="17.7" stroke="#000" stroke-width="1"/>
<line x1="110.7" y1="212.0" x2="110.7" y2="209.0" stroke="#000" stroke-width="1"/>
<line x1="293.3" y1="14.7" x2="293.3" y2="17.7" stroke="#000" stroke-width="1"/>
<line x1="293.3" y1="212.0" x2="293.3" y2="209.0" stroke="#000" stroke-width="1"/>
<line x1="118.7" y1="14.7" x2="118.7" y2="17.7" stroke="#000" stroke-width="1"/>
<line x1="118.7" y1="212.0" x2="118.7" y2="209.0" stroke="#000" stroke-width="1"/>
<line x1="301.3" y1="14.7" x2="301.3" y2="17.7" stroke="#000" stroke-width="1"/>
<line x1="301.3" y1="212.0" x2="301.3" y2="209.0" stroke="#000" stroke-width="1"/>
<line x1="126.7" y1="14.7" x2="126.7" y2="17.7" stroke="#000" stroke-width="1"/>
<line x1="126.7" y1="212.0" x2="126.7" y2="209.0" stroke="#000" stroke-width="1"/>
<line x1="309.3" y1="14.7" x2="309.3" y2="17.7" stroke="#000" stroke-width="1"/>
<line x1="309.3" y1="212.0" x2="309.3" y2="209.0" stroke="#000" stroke-width="1"/>
<line x1="134.7" y1="14.7" x2="134.7" y2="17.7" stroke="#000" stroke-width="1"/>
<line x1="134.7" y1="212.0" x2="134.7" y2="209.0" stroke="#000" stroke-width="1"/>
<line x1="317.3" y1="14.7" x2="317.3" y2="17.7" stroke="#000" stroke-width="1"/>
<line x1="317.3" y1="212.0" x2="317.3" y2="209.0" stroke="#000" stroke-width="1"/>
<line x1="142.7" y1="14.7" x2="142.7" y2="17.7" stroke="#000" stroke-width="1"/>
<line x1="142.7" y1="212.0" x2="142.7" y2="209.0" stroke="#000" stroke-width="1"/>
<line x1="325.3" y1="14.7" x2="325.3" y2="17.7" stroke="#000" stroke-width="1"/>
<line x1="325.3" y1="212.0" x2="325.3" y2="209.0" stroke="#000" stroke-width="1"/>
<line x1="150.7" y1="14.7" x2="150.7" y2="17.7" stroke="#000" stroke-width="1"/>
<line x1="150.7" y1="212.0" x2="150.7" y2="209.0" stroke="#000" stroke-width="1"/>
<line x1="333.3" y1="14.7" x2="333.3" y2="17.7" stroke="#000" stroke-width="1"/>
<line x1="333.3" y1="212.0" x2="333.3" y2="209.0" stroke="#000" stroke-width="1"/>
<line x1="158.7" y1="14.7" x2="158.7" y2="17.7" stroke="#000" stroke-width="1"/>
<line x1="158.7" y1="212.0" x2="158.7" y2="209.0" stroke="#000" stroke-width="1"/>
<line x1="341.3" y1="14.7" x2="341.3" y2="17.7" stroke="#000" stroke-width="1"/>
<line x1="341.3" y1="212.0" x2="341.3" y2="209.0" stroke="#000" stroke-width="1"/>
<rect x="22.85" y="14.7" width="143.45000000000002" height="197.3" fill="none" stroke="#000" stroke-width="1.7"/>
<rect x="205.7" y="14.7" width="143.05" height="197.3" fill="none" stroke="#000" stroke-width="1.7"/>
<!-- labels -->
<rect x="26.3" y="18.7" width="13.2" height="15.3" fill="#000"/>
<text x="32.9" y="30.5" font-size="15" style="color:#fff;stroke-width:0" text-anchor="middle">a</text>
<rect x="209.7" y="18.8" width="12.9" height="18" fill="#000"/>
<text x="216.2" y="33" font-size="15" style="color:#fff;stroke-width:0" text-anchor="middle">b</text>
<text x="130.3" y="33.1" font-size="15">C 1s</text>
<text x="312" y="33" font-size="15">Si 2p</text>
<text x="106" y="9" font-size="12">0.18 eV</text>
<text x="113.4" y="141" font-size="12.3">1.23 eV</text>
<text x="283.6" y="174.6" font-size="12">1.23 eV</text>
<g font-size="12">
<text x="30" y="52">300 nm</text>
<text x="30.4" y="102.6">500 nm</text>
<text x="30.4" y="150">700 nm</text>
<text x="24.4" y="194.4">1000 nm</text>
<text x="214" y="51.6">300 nm</text>
<text x="214" y="102.6">500 nm</text>
<text x="214" y="149.4">700 nm</text>
<text x="207.8" y="195" font-size="12.2">1000 nm</text>
</g>
<text x="94.6" y="41.3" font-size="10.2" style="color:#2222cc;stroke-width:0.35px">G</text>
<text x="134.4" y="51.2" font-size="9.3" style="color:#5fec1e">SiC</text>
<text x="75.2" y="172.7" font-size="8.8" font-weight="bold" style="color:#9b45f0;stroke-width:0.05px">S1</text>
<text x="66" y="182.7" font-size="8.8" font-weight="bold" style="color:#d9541e;stroke-width:0.05px">S2</text>
<text x="89.6" y="193" font-size="10.2" style="color:#2222cc;stroke-width:0.35px">G</text>
<text x="114.8" y="192.2" font-size="9.3" style="color:#5fec1e">SiC</text>
<g font-size="9" text-anchor="middle">
<text x="39.5" y="226">288</text><text x="71.4" y="226">286</text><text x="103.3" y="226">284</text><text x="135.3" y="226">282</text><text x="167.1" y="226">280</text>
<text x="206.4" y="226">106</text><text x="238.1" y="226">104</text><text x="269.8" y="226">102</text><text x="301.5" y="226">100</text><text x="332.9" y="226">98</text>
</g>
<text x="30" y="242" font-size="15">Binding Energy (eV)</text>
<text x="212.3" y="244.2" font-size="15">Binding Energy (eV)</text>
<text transform="translate(11.8 211.7) rotate(-90)" font-size="15">Photoelectron Intensity (a. u.)</text>
<text transform="translate(197 210.6) rotate(-90)" font-size="15.2">Photoelectron Intensity (a. u.)</text>
</svg>
</body></html>
